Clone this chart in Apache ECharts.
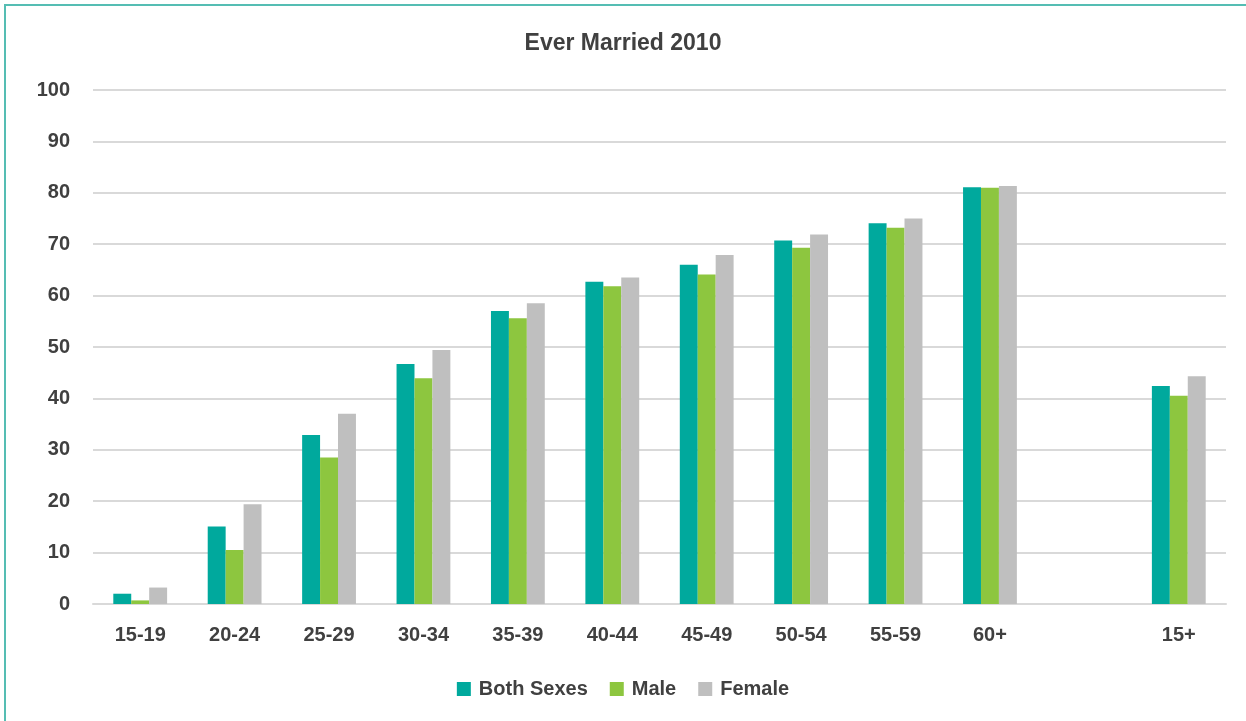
<!DOCTYPE html>
<html>
<head>
<meta charset="utf-8">
<title>Ever Married 2010</title>
<script src="https://cdn.jsdelivr.net/npm/echarts@6/dist/echarts.min.js"></script>
<style>
  html, body { margin: 0; padding: 0; background: #ffffff; overflow: hidden; }
  #chart { width: 1246px; height: 721px; }
</style>
</head>
<body>
<div id="chart"></div>
<script>
// Age groups; the blank slot separates the groups from the all-ages total
const categories = ['15-19', '20-24', '25-29', '30-34', '35-39', '40-44', '45-49', '50-54', '55-59', '60+', '', '15+'];

// Percentage ever married, 2010
const bothSexes = [2.0, 15.1, 32.9, 46.7, 57.0, 62.7, 66.0, 70.7, 74.1, 81.1, null, 42.4];
const male      = [0.7, 10.5, 28.5, 43.9, 55.6, 61.8, 64.1, 69.3, 73.2, 81.0, null, 40.5];
const female    = [3.2, 19.4, 37.0, 49.4, 58.5, 63.5, 67.9, 71.9, 75.0, 81.3, null, 44.3];

const seriesNames = ['Both Sexes', 'Male', 'Female'];
const seriesColors = ['#00A99D', '#8DC63F', '#BFBFBF'];

const FONT = '"Liberation Sans", Arial, sans-serif';
const TEXT = '#404040';

const chart = echarts.init(document.getElementById('chart'), null, { renderer: 'canvas' });

chart.setOption({
  animation: false,
  backgroundColor: '#ffffff',
  graphic: [{
    type: 'rect',
    shape: { x: 5, y: 5, width: 1400, height: 900 },
    style: { fill: 'none', stroke: '#55BDB3', lineWidth: 2 },
    silent: true,
    z: -1
  }],
  title: {
    text: 'Ever Married 2010',
    left: 'center',
    top: 27,
    textStyle: { fontFamily: FONT, fontSize: 23, fontWeight: 'bold', color: TEXT }
  },
  legend: {
    bottom: 17,
    left: 'center',
    itemWidth: 14,
    itemHeight: 14,
    itemGap: 22,
    icon: 'rect',
    textStyle: { fontFamily: FONT, fontSize: 20, fontWeight: 'bold', color: TEXT, padding: [0, 0, 0, 3] },
    data: seriesNames
  },
  grid: { left: 93, right: 20, top: 90, bottom: 117, containLabel: false },
  xAxis: {
    type: 'category',
    data: categories,
    axisLine: { lineStyle: { color: '#D9D9D9', width: 2 } },
    axisTick: { show: false },
    axisLabel: { fontFamily: FONT, fontSize: 20, fontWeight: 'bold', color: TEXT, margin: 21, interval: 0 }
  },
  yAxis: {
    type: 'value',
    min: 0,
    max: 100,
    interval: 10,
    axisLine: { show: false },
    axisTick: { show: false },
    splitLine: { lineStyle: { color: '#D9D9D9', width: 2 } },
    axisLabel: { fontFamily: FONT, fontSize: 20, fontWeight: 'bold', color: TEXT, margin: 23 }
  },
  series: [
    { name: seriesNames[0], type: 'bar', data: bothSexes, itemStyle: { color: seriesColors[0] }, barGap: '0%', barCategoryGap: '43%' },
    { name: seriesNames[1], type: 'bar', data: male, itemStyle: { color: seriesColors[1] }, barGap: '0%', barCategoryGap: '43%' },
    { name: seriesNames[2], type: 'bar', data: female, itemStyle: { color: seriesColors[2] }, barGap: '0%', barCategoryGap: '43%' }
  ]
});
</script>
</body>
</html>
